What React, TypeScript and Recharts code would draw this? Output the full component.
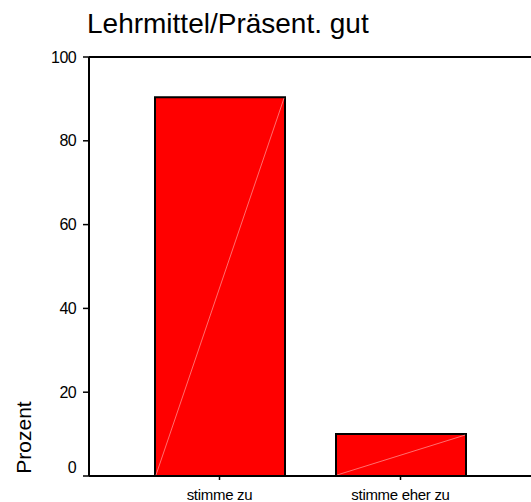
import React from 'react';
import { BarChart, Bar, XAxis, YAxis, ReferenceLine, Rectangle } from 'recharts';

const categories = ['stimme zu', 'stimme eher zu'];
const percent = [90.4, 10.0];
const yTicks = [0, 20, 40, 60, 80, 100];
const title = 'Lehrmittel/Präsent. gut';
const yLabel = 'Prozent';

const data = categories.map((name, i) => ({ name, value: percent[i] }));

const FONT = "'Liberation Sans', Arial, sans-serif";

function YTick(props: any): React.ReactElement {
  const { x, y, payload } = props;
  // SPSS hebt die 0 etwas über die Achse
  const shift = payload.value === 0 ? -9 : 0;
  return (
    <text x={x} y={y + shift} dy="0.355em" textAnchor="end" fontSize={16}
      letterSpacing={-0.6} fontFamily={FONT} fill="#000">
      {payload.value}
    </text>
  );
}

function BarShape(props: any): React.ReactElement {
  const { x, y, width, height } = props;
  return (
    <g>
      <Rectangle x={x} y={y} width={width} height={height} fill="#FF0000" stroke="#000" strokeWidth={2} />
      <line x1={x + 1} y1={y + height - 1} x2={x + width - 1} y2={y + 1} stroke="#ff8a8a" strokeWidth={0.8} />
    </g>
  );
}

export default function App(): React.ReactElement {
  return (
    <div style={{ position: 'absolute', left: 0, top: 0, width: 531, height: 502, background: '#fff' }}>
      <BarChart width={531} height={502} data={data}
        margin={{ top: 57, right: 0, left: 0, bottom: 0 }}>
        <XAxis dataKey="name" height={26} padding={{ left: 40, right: 40 }}
          axisLine={{ stroke: '#000', strokeWidth: 2 }}
          tickLine={{ stroke: '#000', strokeWidth: 1.5 }} tickSize={4} tickMargin={9}
          tick={{ fill: '#000', fontSize: 15, fontFamily: FONT, letterSpacing: -0.3 }} />
        <YAxis domain={[0, 100]} ticks={yTicks} width={89} interval={0}
          axisLine={{ stroke: '#000', strokeWidth: 2 }}
          tickLine={{ stroke: '#000', strokeWidth: 1.5 }} tickSize={6} tickMargin={7}
          tick={<YTick />} />
        <ReferenceLine y={100} stroke="#000" strokeWidth={2} ifOverflow="extendDomain" />
        <Bar dataKey="value" barSize={130} isAnimationActive={false} shape={<BarShape />} />
      </BarChart>
      <svg width={531} height={502} style={{ position: 'absolute', left: 0, top: 0, pointerEvents: 'none' }}>
        <text x={87} y={32.5} fontSize={28} fontFamily={FONT} fill="#000">{title}</text>
        <text transform="translate(30.5,437.5) rotate(-90)" textAnchor="middle" fontSize={21}
          fontFamily={FONT} fill="#000">{yLabel}</text>
      </svg>
    </div>
  );
}
